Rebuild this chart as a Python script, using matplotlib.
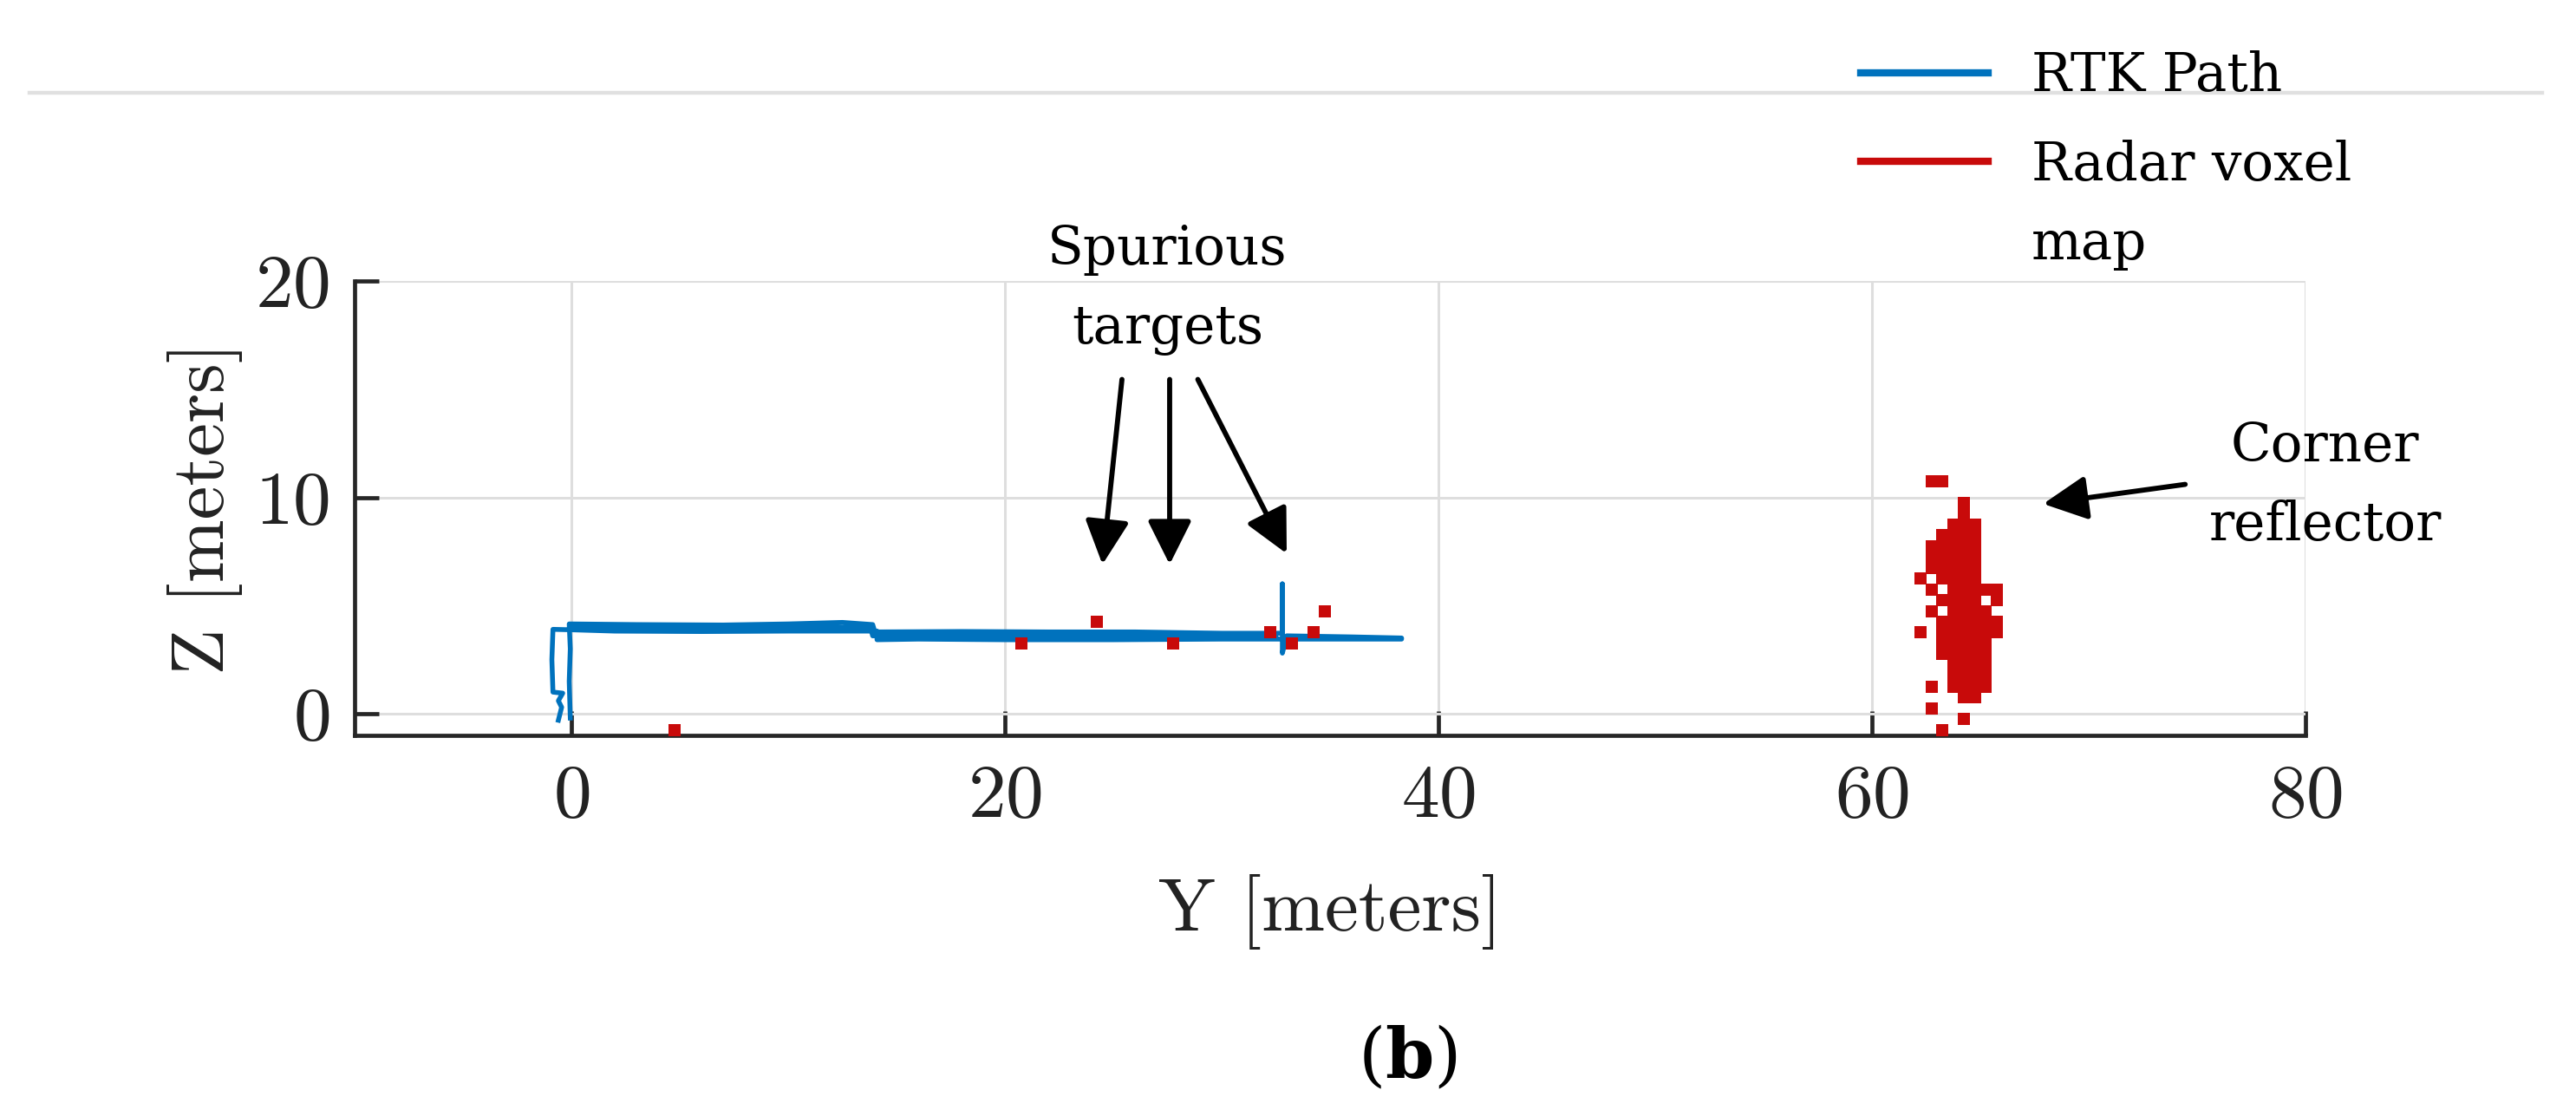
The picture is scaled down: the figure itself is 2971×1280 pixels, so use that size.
import numpy as np
import matplotlib
matplotlib.use('Agg')
import matplotlib.pyplot as plt
from matplotlib.lines import Line2D

plt.rcParams['axes.formatter.use_mathtext'] = True
plt.rcParams['mathtext.fontset'] = 'dejavuserif'

#%% data ---------------------------------------------------------------------

nan = np.nan

# RTK path (Y, Z) in meters, several passes (nan breaks the line)
rtk_y = [-0.05, -0.1, -0.05, -0.1, 3.0, 7.0, 10.0, 12.5, 13.9, 14.0, 18.0, 22.0,
         26.0, 30.0, 32.8, 32.8, 32.8, 33.0, 36.0, 38.3,
         38.3, 35.0, 32.8, 30.0, 25.0, 20.0, 16.0, 14.1, 14.1, 10.0, 6.0, 2.0,
         0.0, -0.85, -0.9, -0.85, -0.4, -0.6, -0.45, -0.6,
         nan, 0.1, 5.0, 9.0, 13.8, 13.9, 20.0, 28.0, 32.5]
rtk_z = [-0.2, 1.5, 3.0, 4.15, 4.12, 4.1, 4.15, 4.22, 4.12, 3.78, 3.8, 3.78,
         3.78, 3.72, 3.72, 6.0, 2.8, 3.6, 3.55, 3.5,
         3.45, 3.45, 3.45, 3.45, 3.42, 3.42, 3.45, 3.42, 3.82, 3.82, 3.8, 3.82,
         3.88, 3.9, 2.5, 1.0, 0.95, 0.6, 0.3, -0.3,
         nan, 3.98, 3.98, 4.02, 3.98, 3.6, 3.6, 3.62, 3.6]

# radar voxel map, voxel centres (Y, Z) in meters
voxel_y = [62.75, 63.25,
           64.25,
           64.25,
           63.75, 64.25, 64.75,
           63.25, 63.75, 64.25, 64.75,
           62.75, 63.25, 63.75, 64.25, 64.75,
           62.75, 63.25, 63.75, 64.25, 64.75,
           62.75, 63.25, 63.75, 64.25, 64.75,
           62.25, 63.25, 63.75, 64.25, 64.75,
           62.75, 63.75, 64.25, 64.75, 65.25, 65.75,
           63.25, 63.75, 64.25, 64.75, 65.75,
           62.75, 63.75, 64.25, 64.75, 65.25,
           63.25, 63.75, 64.25, 64.75, 65.25, 65.75,
           62.25, 63.25, 63.75, 64.25, 64.75, 65.25, 65.75,
           63.25, 63.75, 64.25, 64.75, 65.25,
           63.25, 63.75, 64.25, 64.75, 65.25,
           63.75, 64.25, 64.75, 65.25,
           63.75, 64.25, 64.75, 65.25,
           62.75, 63.75, 64.25, 64.75, 65.25,
           64.25, 64.75,
           62.75,
           64.25,
           63.25,
           # spurious targets
           24.25, 20.75, 27.75, 32.25, 33.25, 34.25, 34.75, 4.75]
voxel_z = [10.75, 10.75,
           9.75,
           9.25,
           8.75, 8.75, 8.75,
           8.25, 8.25, 8.25, 8.25,
           7.75, 7.75, 7.75, 7.75, 7.75,
           7.25, 7.25, 7.25, 7.25, 7.25,
           6.75, 6.75, 6.75, 6.75, 6.75,
           6.25, 6.25, 6.25, 6.25, 6.25,
           5.75, 5.75, 5.75, 5.75, 5.75, 5.75,
           5.25, 5.25, 5.25, 5.25, 5.25,
           4.75, 4.75, 4.75, 4.75, 4.75,
           4.25, 4.25, 4.25, 4.25, 4.25, 4.25,
           3.75, 3.75, 3.75, 3.75, 3.75, 3.75, 3.75,
           3.25, 3.25, 3.25, 3.25, 3.25,
           2.75, 2.75, 2.75, 2.75, 2.75,
           2.25, 2.25, 2.25, 2.25,
           1.75, 1.75, 1.75, 1.75,
           1.25, 1.25, 1.25, 1.25, 1.25,
           0.75, 0.75,
           0.25,
           -0.25,
           -0.75,
           4.25, 3.25, 3.25, 3.75, 3.25, 3.75, 4.75, -0.75]

x_ticks = [0, 20, 40, 60, 80]
z_ticks = [0, 10, 20]

# annotations: (tail Y, tail Z) -> (tip Y, tip Z)
spurious_tails = [(25.4, 15.45), (27.6, 15.45), (28.9, 15.45)]
spurious_tips = [(24.5, 6.9), (27.6, 6.9), (33.0, 7.4)]
corner_tail = (74.45, 10.6)
corner_tip = (67.9, 9.7)

blue = '#0072BD'
red = '#C80A0A'
ink = '#222222'

#%% figure -------------------------------------------------------------------

fig = plt.figure(figsize=(29.71, 12.80), dpi=100)
ax = fig.add_axes([409/2971, 1 - 848/1280, 2250/2971, 524/1280])

rtk_line, = ax.plot(rtk_y, rtk_z, color=blue, lw=4.0, solid_joinstyle='round')
ax.scatter(voxel_y, voxel_z, marker='s', s=92, color=red, linewidths=0, zorder=3)

ax.set_xlim(-10, 80)
ax.set_ylim(-1, 20)
ax.set_xticks(x_ticks)
ax.set_yticks(z_ticks)

for s in ['top', 'right']:
    ax.spines[s].set_visible(False)
for s in ['left', 'bottom']:
    ax.spines[s].set_linewidth(3.4)
    ax.spines[s].set_color('#262626')
ax.tick_params(direction='in', length=20, width=3.4, color='#262626',
               labelsize=63, labelcolor=ink)
ax.tick_params(axis='x', pad=24)
ax.tick_params(axis='y', pad=21)
for lab in ax.get_xticklabels() + ax.get_yticklabels():
    lab.set_family('cmr10')
ax.grid(True, color='#dedede', lw=2.2)
ax.set_axisbelow(True)

ax.set_xlabel('Y [meters]', family='cmr10', fontsize=63, color=ink)
ax.set_ylabel('Z [meters]', family='cmr10', fontsize=63, color=ink)
ax.xaxis.set_label_coords(0.5, (848 - 1008) / 524)
ax.yaxis.set_label_coords((280 - 409) / 2250, 0.5)

# annotations
afont = dict(family='DejaVu Serif', fontsize=44, color='black')
aprops = dict(arrowstyle='-|>,head_length=1.0,head_width=0.5', color='black',
              lw=4.2, mutation_scale=31, shrinkA=0, shrinkB=0)
for tail, tip in zip(spurious_tails, spurious_tips):
    ax.annotate('', xy=tip, xytext=tail, arrowprops=aprops)
ax.text(27.5, 17.11, 'Spurious\ntargets', ha='center', va='baseline',
        linespacing=1.66, **afont)
ax.annotate('', xy=corner_tip, xytext=corner_tail, arrowprops=aprops,
            annotation_clip=False)
ax.text(80.9, 8.02, 'Corner\nreflector', ha='center', va='baseline',
        linespacing=1.66, **afont)

# thin rule at the top of the panel
fig.add_artist(Line2D([34/2971, 2932/2971], [1 - 107/1280] * 2,
                      transform=fig.transFigure, color='#e0e0e0', lw=3.2))

# legend
radar_proxy = Line2D([], [], color=red, lw=6)
leg = fig.legend([rtk_line, radar_proxy], ['RTK Path', 'Radar voxel\nmap'],
                 loc='upper left', bbox_to_anchor=(2146/2971, 1 - 58/1280),
                 frameon=False, prop={'family': 'DejaVu Serif', 'size': 44},
                 handlelength=2.4, handletextpad=0.82, labelspacing=0.7,
                 borderpad=0, borderaxespad=0)
for ln in leg.get_lines():
    ln.set_linewidth(6)
for t in leg.get_texts():
    t.set_linespacing(1.66)

fig.text(1623/2971, 1 - 1243/1280, r'($\mathbf{b}$)', ha='center',
         va='baseline', fontsize=58, family='DejaVu Serif', color='black')

# move the red key up to the first line of its two-line label,
# same offset from the text top as the blue key
fig.canvas.draw()
t_blue, t_red = [t.get_window_extent() for t in leg.get_texts()]
l_blue, l_red = leg.get_lines()
yb = l_blue.get_transform().transform((l_blue.get_xdata()[0], l_blue.get_ydata()[0]))[1]
target = t_red.y1 - (t_blue.y1 - yb)
tr = l_red.get_transform()
xd = l_red.get_xdata()
new_y = tr.inverted().transform((tr.transform((xd[0], l_red.get_ydata()[0]))[0], target))[1]
l_red.set_ydata([new_y] * len(xd))

fig.savefig('out.png', dpi=100)
